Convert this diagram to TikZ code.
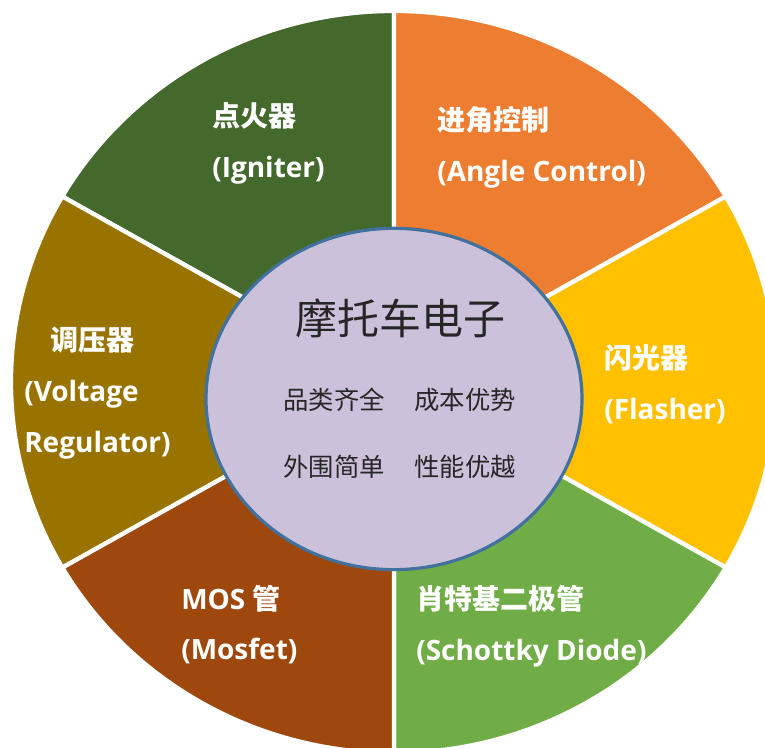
\documentclass[tikz,border=0pt]{standalone}
\usepackage{fontspec}
\setmainfont{Open Sans}
\newfontfamily\cjk{Noto Sans CJK SC}
\usetikzlibrary{shapes.geometric}
\definecolor{ignitergreen}{RGB}{68,105,44}
\definecolor{angleorange}{RGB}{237,125,49}
\definecolor{flashergold}{RGB}{255,192,0}
\definecolor{schottkygreen}{RGB}{112,173,71}
\definecolor{mosfetbrown}{RGB}{158,72,14}
\definecolor{regulatorolive}{RGB}{153,115,0}
\definecolor{hubfill}{RGB}{204,193,218}
\definecolor{hubline}{RGB}{65,113,156}
\definecolor{hubtextgray}{RGB}{38,38,38}
\tikzset{%
  sector/.style    = {draw=white, line width=3.2pt},%
  seclabel/.style  = {text=white, align=left, anchor=west, inner sep=0pt,%
                      font=\bfseries\fontsize{21}{38}\selectfont},%
  hub/.style       = {ellipse, draw=hubline, line width=2.4pt, fill=hubfill,%
                      minimum width=282pt, minimum height=256pt},%
  hubtitle/.style  = {text=hubtextgray, inner sep=0pt, font=\cjk\fontsize{31.5}{36}\selectfont},%
  feature/.style   = {text=hubtextgray, inner sep=0pt, font=\cjk\fontsize{19}{22}\selectfont}%
}

\begin{document}
\begin{tikzpicture}[x=0.75pt,y=0.75pt]
	\useasboundingbox (0,0) rectangle (765,748);
	\coordinate (c) at (394,366);
\begin{scope}
	\clip (0,0) rectangle (765,748);
	% six sectors of the wheel
	\path[sector, fill=ignitergreen] (c) -- ++(90:383 and 371)
		arc [start angle=90, end angle=150, x radius=383, y radius=371] -- cycle;
	\path[sector, fill=angleorange] (c) -- ++(30:383 and 371)
		arc [start angle=30, end angle=90, x radius=383, y radius=371] -- cycle;
	\path[sector, fill=flashergold] (c) -- ++(-30:383 and 371)
		arc [start angle=-30, end angle=30, x radius=383, y radius=371] -- cycle;
	\path[sector, fill=schottkygreen] (c) -- ++(-90:383 and 371)
		arc [start angle=-90, end angle=-30, x radius=383, y radius=371] -- cycle;
	\path[sector, fill=mosfetbrown] (c) -- ++(210:383 and 371)
		arc [start angle=210, end angle=270, x radius=383, y radius=371] -- cycle;
	\path[sector, fill=regulatorolive] (c) -- ++(150:383 and 371)
		arc [start angle=150, end angle=210, x radius=383, y radius=371] -- cycle;
\end{scope}
	% labels
	\node[seclabel] (igniter) at (212,604.5) {{\cjk 点火器}\\(Igniter)};
	\node[seclabel] (angle) at (437,600.5) {{\cjk 进角控制}\\(Angle Control)};
	\node[seclabel] (flasher) at (604,363.5) {{\cjk 闪光器}\\(Flasher)};
	\node[seclabel] (schottky) at (416,121.5) {{\cjk 肖特基二极管}\\(Schottky Diode)};
	\node[seclabel] (mosfet) at (181,123.5) {MOS {\cjk 管}\\(Mosfet)};
	\node[seclabel] (regulator) at (24,355) {\hspace{20pt}{\cjk 调压器}\\(Voltage\\Regulator)};
	% hub
	\node[hub] (hub) at (394,349) {};
	\node[hubtitle] (title) at (400,430) {摩托车电子};
	\node[feature] (range) at (334,348) {品类齐全};
	\node[feature] (cost) at (465,348) {成本优势};
	\node[feature] (simple) at (334,281) {外围简单};
	\node[feature] (perf) at (465,281) {性能优越};
\end{tikzpicture}
\end{document}
